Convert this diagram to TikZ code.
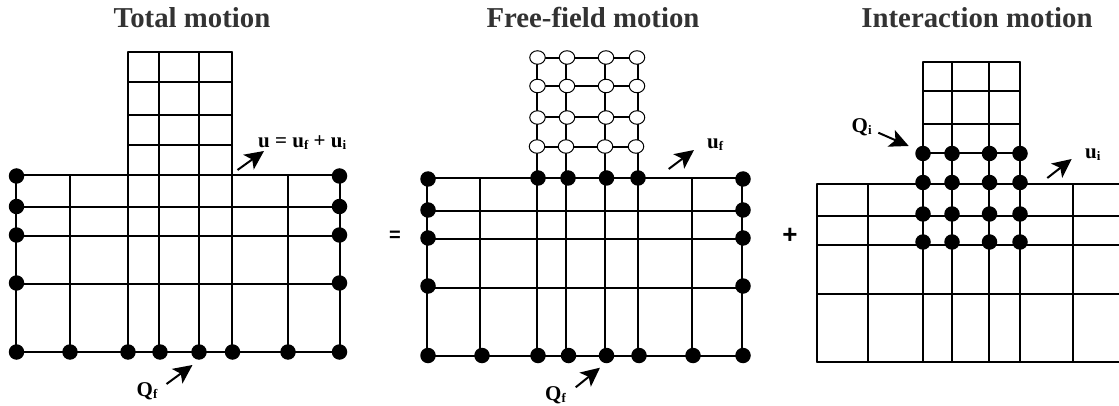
\documentclass[tikz,border=0pt]{standalone}
\usepackage{fontspec}
\setmainfont{Liberation Serif}
\setsansfont{Liberation Sans}
\usetikzlibrary{arrows.meta,shapes.geometric}
\newcommand{\sbs}[1]{\raisebox{-2pt}{\fontsize{13}{14}\selectfont #1}}
\tikzset{
  mesh/.style={draw=black,line width=1.5pt,line cap=round},
  soliddot/.style={circle,fill=black,draw=none,minimum size=15.5pt,inner sep=0pt},
  opendot/.style={ellipse,fill=white,draw=black,line width=1pt,minimum width=15.5pt,minimum height=13.5pt,inner sep=0pt},
  motionarrow/.style={draw=black,line width=2pt,-{Stealth[length=19pt,width=18pt,inset=4.5pt]}},
  heading/.style={font=\fontsize{28.8}{30}\selectfont\bfseries,text=black!80,inner sep=0pt,anchor=base},
  lab/.style={font=\fontsize{21}{22}\selectfont\bfseries,inner sep=0pt,anchor=base west},
  eqop/.style={font=\fontsize{20}{22}\selectfont\sffamily\bfseries,inner sep=0pt},
  plop/.style={font=\fontsize{26}{28}\selectfont\sffamily\bfseries,inner sep=0pt}
}
\begin{document}
\begin{tikzpicture}[x=1pt,y=-1pt]
\useasboundingbox (0,0) rectangle (1119,406);
% headings
\node[heading] (t1) at (192,27.5) {Total motion};
\node[heading] (t2) at (593,27.5) {Free-field motion};
\node[heading] (t3) at (977,27.5) {Interaction motion};
\node[eqop] (eq) at (395,236) {=};
\node[plop] (pl) at (790,236) {+};
% mesh points
\foreach \px/\xs/\ys in {
  a/{16,70,128,159,199,232,288,340}/{52,82,115,145,175,207,236,284,352},
  b/{427,480,537,566,605,638,692,742}/{58,86,117,147,178,211,239,288,356},
  c/{817,868,923,952,989,1020,1073,1119}/{62,91,124,153,184,216,245,294,362}}{
  \foreach \x [count=\i] in \xs {
    \foreach \y [count=\j] in \ys {
      \coordinate (\px\i-\j) at (\x,\y);
    }
  }
  % horizontals
  \foreach \j in {1,2,3,4} \draw[mesh] (\px3-\j) -- (\px6-\j);
  \foreach \j in {5,6,7,8,9} \draw[mesh] (\px1-\j) -- (\px8-\j);
  % verticals
  \foreach \i in {3,4,5,6} \draw[mesh] (\px\i-1) -- (\px\i-9);
  \foreach \i in {2,7} \draw[mesh] (\px\i-5) -- (\px\i-9);
  \draw[mesh] (\px1-5) -- (\px1-9);
}
\draw[mesh] (a8-5) -- (a8-9);
\draw[mesh] (b8-5) -- (b8-9);
% panel 1 dots
\foreach \y [count=\j] in {176,206.5,235,283,352} {
  \node[soliddot] (al\j) at (16.5,\y) {};
  \node[soliddot] (ar\j) at (339.5,\y) {};
}
\foreach \x [count=\i] in {70,128,160,199,232.5,288} \node[soliddot] (ab\i) at (\x,352) {};
% panel 2 dots
\foreach \y [count=\j] in {179,210,238,286,355.5} {
  \node[soliddot] (bl\j) at (428,\y) {};
  \node[soliddot] (br\j) at (743,\y) {};
}
\foreach \x [count=\i] in {482,538,568.5,606.5,639,693} \node[soliddot] (bb\i) at (\x,355.5) {};
\foreach \x [count=\i] in {538,568,606.5,638} \node[soliddot] (bg\i) at (\x,178) {};
\foreach \x/\y/\n in {537.5/57.5/1,567/57.5/2,606/57.5/3,637/57.5/4,
  537.5/86/5,567/86/6,606/86/7,637/86/8,
  537.5/117.5/9,567/117.5/10,606/117.5/11,637/117.5/12,
  537/146.5/13,566/146.5/14,605/146.5/15,636/146.5/16}
  \node[opendot] (bo\n) at (\x,\y) {};
% panel 3 dots
\foreach \y [count=\j] in {153.5,182.5,214,242} {
  \foreach \x [count=\i] in {923,952,989.5,1020} {
    \node[soliddot] (cd\j-\i) at (\x,\y) {};
  }
}
% arrows
\coordinate (A1s) at (237.5,170); \coordinate (A1e) at (264,151);
\coordinate (A2s) at (166.5,384); \coordinate (A2e) at (192.5,365);
\coordinate (B1s) at (668.7,169); \coordinate (B1e) at (694,150);
\coordinate (B2s) at (575.7,387.3); \coordinate (B2e) at (600,367.7);
\coordinate (C1s) at (878.3,132.7); \coordinate (C1e) at (908.7,146);
\coordinate (C2s) at (1047.3,178); \coordinate (C2e) at (1071.7,159);
\foreach \a in {A1,A2,B1,B2,C1,C2} \draw[motionarrow] (\a s) -- (\a e);
% labels
\node[lab] (l1) at (258,147.5) {u = u\sbs{f} + u\sbs{i}};
\node[lab] (l2) at (136.5,396.5) {Q\sbs{f}};
\node[lab] (l3) at (707,149) {u\sbs{f}};
\node[lab] (l4) at (545,400) {Q\sbs{f}};
\node[lab] (l5) at (851.5,133) {Q\sbs{i}};
\node[lab] (l6) at (1085,159) {u\sbs{i}};
\end{tikzpicture}
\end{document}
